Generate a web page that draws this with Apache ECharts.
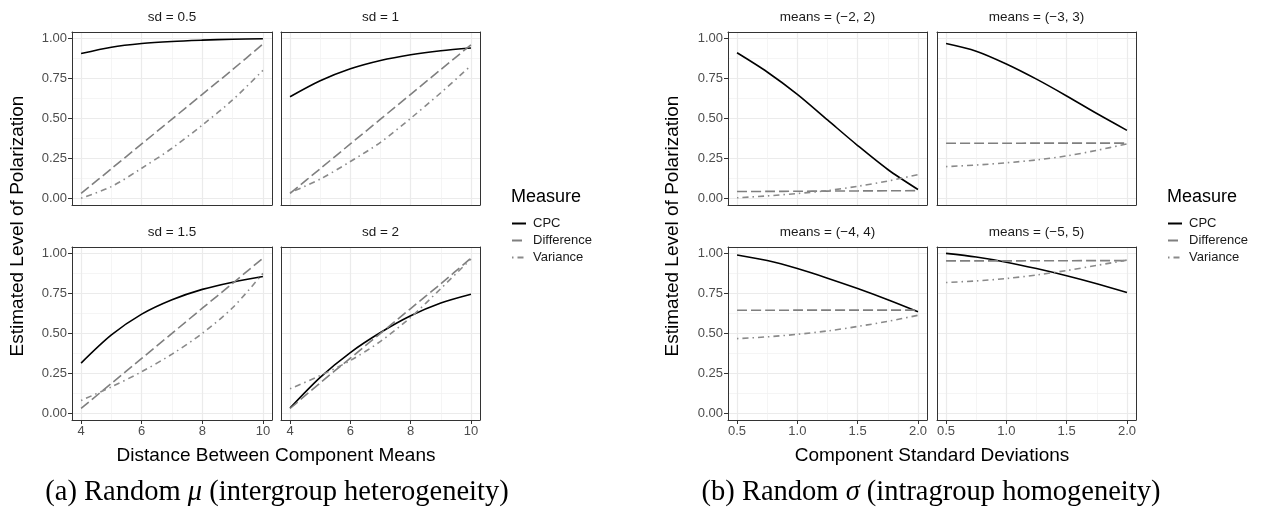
<!DOCTYPE html>
<html>
<head>
<meta charset="utf-8">
<script src="https://cdn.jsdelivr.net/npm/echarts@6/dist/echarts.min.js"></script>
<style>
html,body{margin:0;padding:0;background:#fff;}
#chart{width:1272px;height:514px;}
</style>
</head>
<body>
<div id="chart"></div>
<script>
// ---------------- data ----------------
const distX = [4, 5, 6, 7, 8, 9, 10];
const sdX = [0.5, 0.75, 1, 1.25, 1.5, 1.75, 2];
const measures = ['CPC', 'Difference', 'Variance'];

const sdPanels = ['sd = 0.5', 'sd = 1', 'sd = 1.5', 'sd = 2'];
const meansPanels = ['means = (\u22122, 2)', 'means = (\u22123, 3)', 'means = (\u22124, 4)', 'means = (\u22125, 5)'];

const sd05_cpc  = [0.905, 0.945, 0.968, 0.981, 0.989, 0.995, 0.998];
const sd05_diff = [0.03, 0.185, 0.34, 0.495, 0.65, 0.805, 0.965];
const sd05_var  = [0.0, 0.073, 0.188, 0.313, 0.458, 0.615, 0.80];

const sd1_cpc  = [0.635, 0.735, 0.81, 0.862, 0.898, 0.923, 0.94];
const sd1_diff = [0.03, 0.185, 0.34, 0.495, 0.65, 0.805, 0.96];
const sd1_var  = [0.035, 0.12, 0.23, 0.35, 0.5, 0.66, 0.83];

const sd15_cpc  = [0.314, 0.49, 0.62, 0.71, 0.775, 0.82, 0.855];
const sd15_diff = [0.03, 0.187, 0.343, 0.5, 0.657, 0.813, 0.97];
const sd15_var  = [0.08, 0.165, 0.26, 0.37, 0.5, 0.66, 0.875];

const sd2_cpc  = [0.033, 0.225, 0.38, 0.505, 0.61, 0.69, 0.745];
const sd2_diff = [0.03, 0.19, 0.345, 0.5, 0.655, 0.81, 0.97];
const sd2_var  = [0.153, 0.236, 0.33, 0.45, 0.6, 0.78, 0.965];

const m2_cpc  = [0.91, 0.79, 0.65, 0.49, 0.33, 0.18, 0.055];
const m2_diff = [0.042, 0.043, 0.044, 0.045, 0.046, 0.047, 0.048];
const m2_var  = [0.003, 0.015, 0.03, 0.048, 0.075, 0.108, 0.148];

const m3_cpc  = [0.968, 0.92, 0.84, 0.745, 0.64, 0.53, 0.425];
const m3_diff = [0.344, 0.344, 0.344, 0.345, 0.345, 0.345, 0.345];
const m3_var  = [0.198, 0.208, 0.222, 0.24, 0.265, 0.3, 0.34];

const m4_cpc  = [0.99, 0.955, 0.905, 0.845, 0.78, 0.71, 0.635];
const m4_diff = [0.644, 0.644, 0.645, 0.645, 0.645, 0.645, 0.645];
const m4_var  = [0.467, 0.478, 0.494, 0.515, 0.543, 0.575, 0.613];

const m5_cpc  = [1.0, 0.977, 0.945, 0.905, 0.86, 0.81, 0.755];
const m5_diff = [0.953, 0.953, 0.953, 0.954, 0.954, 0.955, 0.955];
const m5_var  = [0.818, 0.828, 0.843, 0.865, 0.893, 0.925, 0.958];

const yTicks = [0, 0.25, 0.5, 0.75, 1];
const yMinor = [0.125, 0.375, 0.625, 0.875];
const distTicks = [4, 6, 8, 10];
const distMinor = [5, 7, 9];
const sdTicks = [0.5, 1.0, 1.5, 2.0];
const sdMinor = [0.75, 1.25, 1.75];

const xTitleA = 'Distance Between Component Means';
const xTitleB = 'Component Standard Deviations';
const yTitle = 'Estimated Level of Polarization';
const legendTitle = 'Measure';

// ---------------- layout ----------------
const FONT = '"Liberation Sans", Arial, Helvetica, sans-serif';
const SERIF = '"Liberation Serif", "Times New Roman", serif';
const panels = [
  {l: 72,  t: 32,  w: 200, h: 173, x: distX, ticks: distTicks, minor: distMinor, xr: [3.7, 10.3], strip: sdPanels[0], ys: [sd05_cpc, sd05_diff, sd05_var], row: 0, col: 0, fmt: v => String(v)},
  {l: 281, t: 32,  w: 199, h: 173, x: distX, ticks: distTicks, minor: distMinor, xr: [3.7, 10.3], strip: sdPanels[1], ys: [sd1_cpc, sd1_diff, sd1_var], row: 0, col: 1, fmt: v => String(v)},
  {l: 72,  t: 247, w: 200, h: 173, x: distX, ticks: distTicks, minor: distMinor, xr: [3.7, 10.3], strip: sdPanels[2], ys: [sd15_cpc, sd15_diff, sd15_var], row: 1, col: 0, fmt: v => String(v)},
  {l: 281, t: 247, w: 199, h: 173, x: distX, ticks: distTicks, minor: distMinor, xr: [3.7, 10.3], strip: sdPanels[3], ys: [sd2_cpc, sd2_diff, sd2_var], row: 1, col: 1, fmt: v => String(v)},
  {l: 728, t: 32,  w: 199, h: 173, x: sdX, ticks: sdTicks, minor: sdMinor, xr: [0.425, 2.075], strip: meansPanels[0], ys: [m2_cpc, m2_diff, m2_var], row: 0, col: 0, fmt: v => v.toFixed(1)},
  {l: 937, t: 32,  w: 199, h: 173, x: sdX, ticks: sdTicks, minor: sdMinor, xr: [0.425, 2.075], strip: meansPanels[1], ys: [m3_cpc, m3_diff, m3_var], row: 0, col: 1, fmt: v => v.toFixed(1)},
  {l: 728, t: 247, w: 199, h: 173, x: sdX, ticks: sdTicks, minor: sdMinor, xr: [0.425, 2.075], strip: meansPanels[2], ys: [m4_cpc, m4_diff, m4_var], row: 1, col: 0, fmt: v => v.toFixed(1)},
  {l: 937, t: 247, w: 199, h: 173, x: sdX, ticks: sdTicks, minor: sdMinor, xr: [0.425, 2.075], strip: meansPanels[3], ys: [m5_cpc, m5_diff, m5_var], row: 1, col: 1, fmt: v => v.toFixed(1)}
];
const yRange = [-0.042, 1.04];

const seriesStyle = [
  {color: '#000000', width: 1.6, type: 'solid'},
  {color: '#7f7f7f', width: 1.6, type: [10, 4]},
  {color: '#8a8a8a', width: 1.6, type: [1.5, 4, 6, 4]}
];

const MAJOR = {color: '#ebebeb', width: 1.2};
const MINORL = {color: '#f1f1f1', width: 0.7};
const BORDER = '#333333';

const grid = [], xAxis = [], yAxis = [], series = [], graphic = [];

panels.forEach((p, g) => {
  grid.push({left: p.l, top: p.t, width: p.w, height: p.h, containLabel: false, show: false});
  const bottom = p.row === 1, left = p.col === 0;
  xAxis.push({
    type: 'value', gridIndex: g, min: p.xr[0], max: p.xr[1], position: 'bottom',
    axisLine: {show: true, onZero: false, lineStyle: {color: BORDER, width: 1}},
    axisTick: {show: bottom, length: 4, lineStyle: {color: BORDER, width: 1}, customValues: p.ticks},
    axisLabel: {show: bottom, customValues: p.ticks, formatter: p.fmt, color: '#4d4d4d', fontSize: 13, fontFamily: FONT, margin: 5},
    splitLine: {show: true, lineStyle: MAJOR}
  });
  xAxis.push({
    type: 'value', gridIndex: g, min: p.xr[0], max: p.xr[1], position: 'top',
    axisLine: {show: true, onZero: false, lineStyle: {color: BORDER, width: 1}},
    axisTick: {show: false, customValues: p.minor},
    axisLabel: {show: false, customValues: p.minor},
    splitLine: {show: true, lineStyle: MINORL}
  });
  yAxis.push({
    type: 'value', gridIndex: g, min: yRange[0], max: yRange[1], position: 'left',
    axisLine: {show: true, onZero: false, lineStyle: {color: BORDER, width: 1}},
    axisTick: {show: left, length: 4, lineStyle: {color: BORDER, width: 1}, customValues: yTicks},
    axisLabel: {show: left, customValues: yTicks, formatter: v => v.toFixed(2), color: '#4d4d4d', fontSize: 13, fontFamily: FONT, margin: 5},
    splitLine: {show: true, lineStyle: MAJOR}
  });
  yAxis.push({
    type: 'value', gridIndex: g, min: yRange[0], max: yRange[1], position: 'right',
    axisLine: {show: true, onZero: false, lineStyle: {color: BORDER, width: 1}},
    axisTick: {show: false, customValues: yMinor},
    axisLabel: {show: false, customValues: yMinor},
    splitLine: {show: true, lineStyle: MINORL}
  });
  p.ys.forEach((ys, k) => {
    series.push({
      type: 'line', name: measures[k], xAxisIndex: 2 * g, yAxisIndex: 2 * g,
      data: p.x.map((xv, i) => [xv, ys[i]]),
      symbol: 'none', showSymbol: false, smooth: 0.3, silent: true, animation: false,
      lineStyle: {color: seriesStyle[k].color, width: seriesStyle[k].width, type: seriesStyle[k].type},
      itemStyle: {color: seriesStyle[k].color},
      z: 3 + k
    });
  });
  graphic.push({type: 'text', x: p.l + p.w / 2, y: p.t - 15, silent: true,
    style: {text: p.strip, fill: '#1a1a1a', font: '13.5px ' + FONT, textAlign: 'center', textVerticalAlign: 'middle'}});
});

const TITLEFONT = '19px ' + FONT;
graphic.push({type: 'text', x: 276, y: 456, style: {text: xTitleA, fill: '#000', font: TITLEFONT, textAlign: 'center', textVerticalAlign: 'middle'}});
graphic.push({type: 'text', x: 932, y: 456, style: {text: xTitleB, fill: '#000', font: TITLEFONT, textAlign: 'center', textVerticalAlign: 'middle'}});
graphic.push({type: 'text', x: 18, y: 226, rotation: Math.PI / 2, style: {text: yTitle, fill: '#000', font: TITLEFONT, textAlign: 'center', textVerticalAlign: 'middle'}});
graphic.push({type: 'text', x: 673, y: 226, rotation: Math.PI / 2, style: {text: yTitle, fill: '#000', font: TITLEFONT, textAlign: 'center', textVerticalAlign: 'middle'}});
graphic.push({type: 'text', x: 511, y: 197, style: {text: legendTitle, fill: '#000', font: '18px ' + FONT, textAlign: 'left', textVerticalAlign: 'middle'}});
graphic.push({type: 'text', x: 1167, y: 197, style: {text: legendTitle, fill: '#000', font: '18px ' + FONT, textAlign: 'left', textVerticalAlign: 'middle'}});

const capRich = {i: {fontStyle: 'italic', fontSize: 28.5, fontFamily: SERIF, fill: '#000'}, n: {fontSize: 28.5, fontFamily: SERIF, fill: '#000'}};
graphic.push({type: 'text', x: 277, y: 493, style: {text: '{n|(a) Random }{i|\u03bc}{n| (intergroup heterogeneity)}', rich: capRich, textAlign: 'center', textVerticalAlign: 'middle'}});
graphic.push({type: 'text', x: 931, y: 493, style: {text: '{n|(b) Random }{i|\u03c3}{n| (intragroup homogeneity)}', rich: capRich, textAlign: 'center', textVerticalAlign: 'middle'}});

const legendCommon = {
  orient: 'vertical', data: measures, itemWidth: 14, itemHeight: 10, itemGap: 4,
  selectedMode: false, itemStyle: {opacity: 0},
  textStyle: {fontSize: 13, color: '#1a1a1a', fontFamily: FONT, padding: [0, 0, 0, 2]},
  padding: 0
};
const legend = [
  Object.assign({left: 511, top: 217}, legendCommon),
  Object.assign({left: 1167, top: 217}, legendCommon)
];

const chart = echarts.init(document.getElementById('chart'), null, {renderer: 'canvas'});
chart.setOption({
  backgroundColor: '#ffffff',
  animation: false,
  grid, xAxis, yAxis, series, legend, graphic
});
</script>
</body>
</html>
